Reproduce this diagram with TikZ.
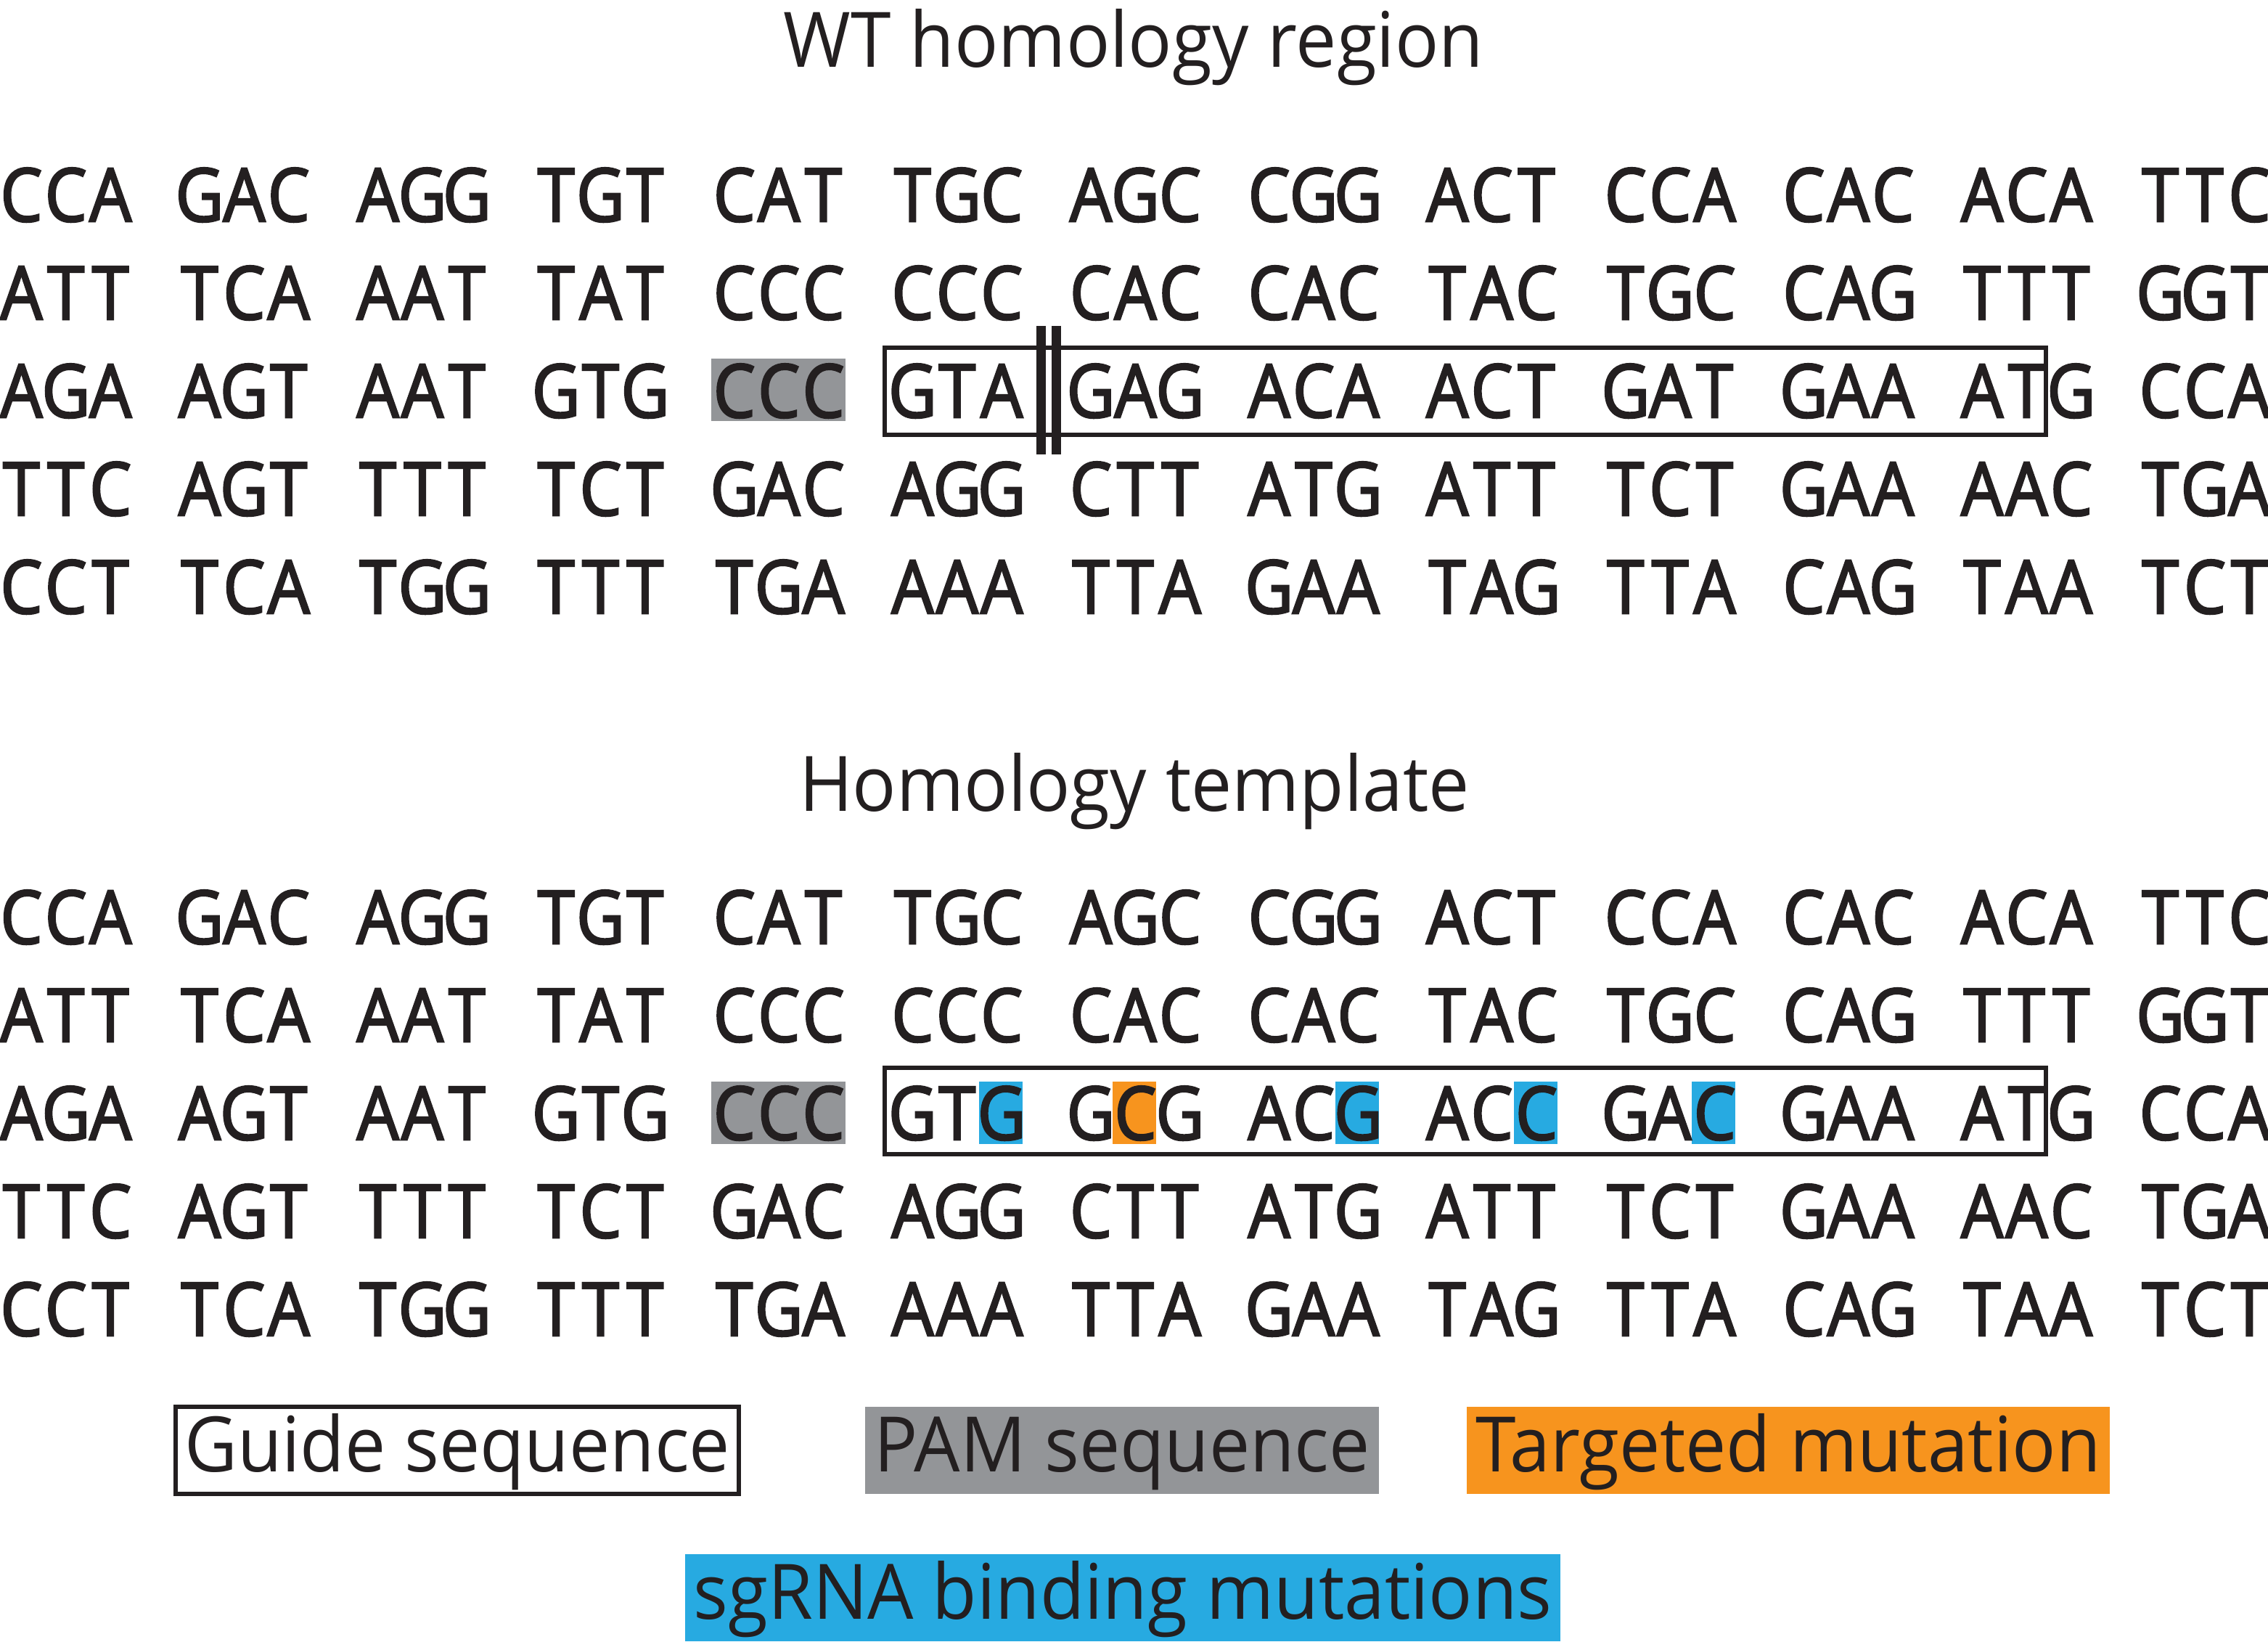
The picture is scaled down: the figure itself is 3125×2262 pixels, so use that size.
\documentclass[tikz,border=0pt]{standalone}
\usepackage{fontspec}
\setmainfont{Open Sans}
\newfontfamily\seqfont{Open Sans}[FakeStretch=0.9, FakeBold=2.5]
\newfontfamily\labelfont{Open Sans}[FakeStretch=0.95]
\definecolor{ink}{HTML}{231F20}
\definecolor{pamgray}{HTML}{939598}
\definecolor{mutorange}{HTML}{F7941E}
\definecolor{sgblue}{HTML}{27AAE1}
\newcommand\codon[3]{\makebox[6.14mm]{#1}\makebox[6.14mm]{#2}\makebox[6.14mm]{#3}}

\begin{document}
\begin{tikzpicture}[
        x=0.1mm, y=-0.1mm,
        bases/.style = {inner sep=0, anchor=base west, text=ink, font=\seqfont\fontsize{29}{29}\selectfont},
        title/.style = {inner sep=0, anchor=base, text=ink, font=\labelfont\fontsize{30}{30}\selectfont},
        legend/.style = {inner xsep=1.2mm, inner ysep=0, text height=8.9mm, text depth=3.1mm, anchor=base, text=ink, font=\labelfont\fontsize{30}{30}\selectfont},
        guide/.style = {draw=ink, line width=0.6mm},
        cut/.style = {draw=ink, line width=1.3mm}
        ]

        \useasboundingbox (0,0) rectangle (3125,2262);

        \fill[pamgray] (980.4,494) rectangle (1164.6,580);
        \fill[pamgray] (980.4,1490) rectangle (1164.6,1576);
        \foreach \k in {6,8,9,10}
            \fill[sgblue] ({(\k-1)*245.6+120.8},1490) rectangle +(60,86);
        \fill[mutorange] (1533,1490) rectangle +(60,86);

        \node (wt) at (1562,93) [title] {WT homology region};
        \node (ht) at (1563,1118) [title] {Homology template};

        \foreach \rw/\seq in {1/{CCA,GAC,AGG,TGT,CAT,TGC,AGC,CGG,ACT,CCA,CAC,ACA,TTC},
                              2/{ATT,TCA,AAT,TAT,CCC,CCC,CAC,CAC,TAC,TGC,CAG,TTT,GGT},
                              4/{TTC,AGT,TTT,TCT,GAC,AGG,CTT,ATG,ATT,TCT,GAA,AAC,TGA},
                              5/{CCT,TCA,TGG,TTT,TGA,AAA,TTA,GAA,TAG,TTA,CAG,TAA,TCT}}
            \foreach \cod [count=\k] in \seq {
                \node (wt-\rw-\k) at ({(\k-1)*245.6-2},{305+(\rw-1)*135}) [bases] {\expandafter\codon\cod};
                \node (ht-\rw-\k) at ({(\k-1)*245.6-2},{1300+(\rw-1)*135}) [bases] {\expandafter\codon\cod};
            }
        \foreach \cod [count=\k] in {AGA,AGT,AAT,GTG,CCC,GTA,GAG,ACA,ACT,GAT,GAA,ATG,CCA}
            \node (wt-3-\k) at ({(\k-1)*245.6-2},575) [bases] {\expandafter\codon\cod};
        \foreach \cod [count=\k] in {AGA,AGT,AAT,GTG,CCC,GTG,GCG,ACG,ACC,GAC,GAA,ATG,CCA}
            \node (ht-3-\k) at ({(\k-1)*245.6-2},1570) [bases] {\expandafter\codon\cod};

        \draw[guide] (1219,479) rectangle (2819,599);
        \draw[guide] (1219,1471) rectangle (2819,1590);
        \draw[cut] (1434.5,449) -- (1434.5,626);
        \draw[cut] (1455.5,449) -- (1455.5,626);

        \node (guidekey) at (630,2027) [legend, draw=ink, line width=0.6mm] {Guide sequence};
        \node (pamkey) at (1546,2027) [legend, fill=pamgray] {PAM sequence};
        \node (mutkey) at (2464,2027) [legend, fill=mutorange] {Targeted mutation};
        \node (sgkey) at (1547,2230) [legend, fill=sgblue] {sgRNA binding mutations};

    \end{tikzpicture}
\end{document}
